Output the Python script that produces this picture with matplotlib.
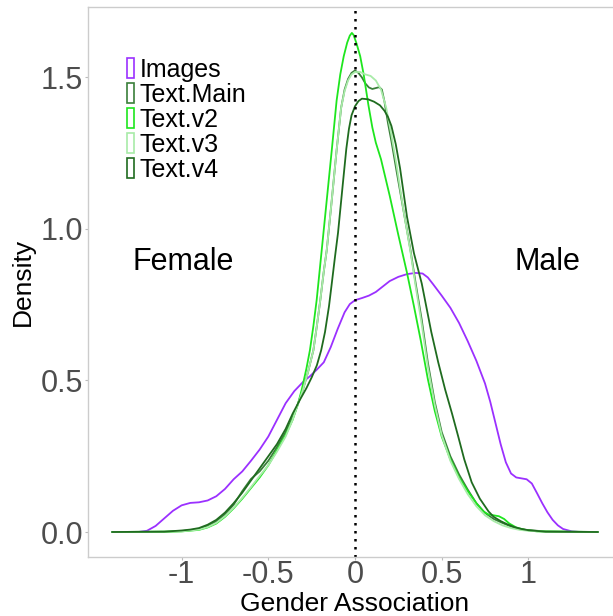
import matplotlib
matplotlib.use('Agg')
import matplotlib.pyplot as plt
from matplotlib.patches import Rectangle

plt.rcParams['font.family'] = ['Liberation Sans', 'DejaVu Sans']
plt.rcParams['axes.unicode_minus'] = False

# density curves of gender association scores
x_images = [-1.40, -1.25, -1.20, -1.15, -1.10, -1.05, -1.00, -0.95, -0.90, -0.85, -0.80, -0.75,
            -0.70, -0.65, -0.60, -0.55, -0.50, -0.45, -0.40, -0.35, -0.30, -0.26, -0.22, -0.18,
            -0.14, -0.10, -0.06, -0.03, 0.0, 0.04, 0.08, 0.12, 0.16, 0.20, 0.25, 0.30, 0.35, 0.39,
            0.42, 0.45, 0.50, 0.55, 0.60, 0.65, 0.70, 0.75, 0.78, 0.81, 0.84, 0.87, 0.90, 0.93,
            0.96, 0.99, 1.02, 1.05, 1.08, 1.11, 1.14, 1.17, 1.20, 1.25, 1.30, 1.40]
d_images = [0, 0.0, 0.004, 0.02, 0.045, 0.07, 0.088, 0.096, 0.098, 0.104, 0.118, 0.142,
            0.174, 0.20, 0.235, 0.272, 0.315, 0.37, 0.425, 0.465, 0.495, 0.514, 0.536, 0.56,
            0.61, 0.67, 0.725, 0.752, 0.765, 0.772, 0.78, 0.792, 0.81, 0.828, 0.842, 0.851, 0.855, 0.853,
            0.84, 0.818, 0.78, 0.74, 0.69, 0.63, 0.565, 0.49, 0.43, 0.36, 0.29, 0.23, 0.193, 0.18,
            0.177, 0.174, 0.16, 0.128, 0.095, 0.065, 0.04, 0.022, 0.01, 0.002, 0, 0]

x_main = [-1.40, -1.10, -1.0, -0.95, -0.90, -0.85, -0.80, -0.75, -0.70, -0.65, -0.60, -0.55,
          -0.50, -0.45, -0.40, -0.35, -0.30, -0.27, -0.24, -0.22, -0.20, -0.18, -0.163, -0.134,
          -0.106, -0.08, -0.06, -0.04, -0.02, 0.0, 0.02, 0.04, 0.06, 0.08, 0.10, 0.12, 0.14, 0.155,
          0.17, 0.19, 0.21, 0.24, 0.28, 0.32, 0.35, 0.385, 0.42, 0.46, 0.50, 0.55, 0.60, 0.65,
          0.70, 0.75, 0.80, 0.85, 0.90, 0.95, 1.0, 1.1, 1.4]
d_main = [0, 0.001, 0.003, 0.006, 0.01, 0.02, 0.035, 0.058, 0.09, 0.135, 0.175, 0.20,
          0.235, 0.28, 0.33, 0.39, 0.47, 0.53, 0.60, 0.68, 0.766, 0.86, 0.93, 1.095,
          1.26, 1.40, 1.46, 1.495, 1.515, 1.523, 1.515, 1.50, 1.48, 1.467, 1.462, 1.465, 1.468, 1.46,
          1.42, 1.35, 1.29, 1.19, 1.06, 0.93, 0.82, 0.70, 0.56, 0.43, 0.33, 0.25, 0.19, 0.14,
          0.095, 0.063, 0.043, 0.03, 0.018, 0.01, 0.006, 0.002, 0]

x_v2 = [-1.40, -1.10, -1.0, -0.9, -0.85, -0.80, -0.75, -0.70, -0.65, -0.60, -0.55, -0.50,
        -0.45, -0.40, -0.36, -0.33, -0.307, -0.28, -0.26, -0.24, -0.221, -0.192, -0.163, -0.134,
        -0.106, -0.085, -0.065, -0.045, -0.03, -0.018, -0.008, 0.01, 0.03, 0.05, 0.077, 0.10,
        0.12, 0.15, 0.20, 0.25, 0.30, 0.34, 0.38, 0.42, 0.46, 0.50, 0.55, 0.60, 0.65, 0.70,
        0.74, 0.77, 0.80, 0.83, 0.86, 0.89, 0.93, 0.98, 1.05, 1.4]
d_v2 = [0, 0.001, 0.002, 0.007, 0.015, 0.028, 0.05, 0.078, 0.11, 0.145, 0.18, 0.22,
        0.27, 0.32, 0.37, 0.42, 0.47, 0.54, 0.60, 0.68, 0.766, 0.93, 1.095, 1.26,
        1.424, 1.51, 1.57, 1.615, 1.638, 1.647, 1.64, 1.61, 1.57, 1.51, 1.41, 1.335,
        1.285, 1.23, 1.11, 0.98, 0.855, 0.745, 0.63, 0.505, 0.40, 0.315, 0.24, 0.18, 0.135, 0.095,
        0.068, 0.058, 0.055, 0.052, 0.043, 0.028, 0.015, 0.007, 0.002, 0]

x_v3 = [-1.40, -1.10, -1.0, -0.9, -0.85, -0.80, -0.75, -0.70, -0.65, -0.60, -0.55, -0.50,
        -0.45, -0.40, -0.36, -0.33, -0.30, -0.27, -0.24, -0.22, -0.20, -0.18, -0.163, -0.134,
        -0.106, -0.08, -0.06, -0.04, -0.02, 0.0, 0.03, 0.06, 0.09, 0.12, 0.15, 0.18, 0.21, 0.24,
        0.28, 0.32, 0.35, 0.385, 0.42, 0.46, 0.50, 0.55, 0.60, 0.65, 0.70, 0.75, 0.80, 0.85,
        0.90, 0.95, 1.0, 1.1, 1.4]
d_v3 = [0, 0.001, 0.002, 0.008, 0.016, 0.03, 0.052, 0.08, 0.113, 0.148, 0.185, 0.22,
        0.265, 0.315, 0.37, 0.42, 0.47, 0.53, 0.60, 0.68, 0.766, 0.86, 0.93, 1.095,
        1.26, 1.40, 1.455, 1.49, 1.51, 1.518, 1.518, 1.51, 1.505, 1.49, 1.46, 1.40, 1.31, 1.21,
        1.06, 0.925, 0.81, 0.685, 0.545, 0.42, 0.32, 0.235, 0.175, 0.125, 0.085, 0.055, 0.036, 0.022,
        0.013, 0.007, 0.004, 0.001, 0]

x_v4 = [-1.40, -1.10, -1.0, -0.95, -0.90, -0.85, -0.80, -0.75, -0.70, -0.65, -0.60, -0.55,
        -0.50, -0.45, -0.40, -0.36, -0.317, -0.28, -0.25, -0.22, -0.195, -0.173, -0.15, -0.134,
        -0.115, -0.098, -0.07, -0.05, -0.035, -0.02, 0.0, 0.02, 0.04, 0.075, 0.11, 0.144, 0.17,
        0.19, 0.21, 0.235, 0.26, 0.28, 0.30, 0.34, 0.385, 0.44, 0.48, 0.52, 0.56, 0.595, 0.63,
        0.673, 0.72, 0.77, 0.80, 0.84, 0.88, 0.92, 0.96, 1.0, 1.1, 1.4]
d_v4 = [0, 0.001, 0.005, 0.008, 0.013, 0.024, 0.04, 0.064, 0.095, 0.13, 0.17, 0.21,
        0.25, 0.29, 0.34, 0.39, 0.437, 0.475, 0.51, 0.55, 0.60, 0.66, 0.745, 0.82,
        0.91, 0.987, 1.15, 1.265, 1.33, 1.375, 1.405, 1.422, 1.43, 1.428, 1.42, 1.408, 1.39,
        1.37, 1.34, 1.28, 1.20, 1.12, 1.04, 0.92, 0.82, 0.66, 0.56, 0.47, 0.39, 0.316, 0.24,
        0.164, 0.11, 0.068, 0.05, 0.036, 0.025, 0.016, 0.01, 0.006, 0.001, 0]

series = [
    ("Images", x_images, d_images, "#9B30FF"),
    ("Text.Main", x_main, d_main, "#3A7F3A"),
    ("Text.v2", x_v2, d_v2, "#1EE61E"),
    ("Text.v3", x_v3, d_v3, "#A8EBA8"),
    ("Text.v4", x_v4, d_v4, "#1F6B1F"),
]

x_ticks = [-1, -0.5, 0, 0.5, 1]
x_tick_labels = ["-1", "-0.5", "0", "0.5", "1"]
y_ticks = [0.0, 0.5, 1.0, 1.5]
y_tick_labels = ["0.0", "0.5", "1.0", "1.5"]

fig = plt.figure(figsize=(6.13, 6.16), dpi=100)
ax = fig.add_axes([88/613, 59/616, 534/613, 550/616])

for name, xs, ds, col in series:
    ax.plot(xs, ds, color=col, lw=1.3, label=name)

ax.axvline(0, color='black', ls=(0, (1, 2.2)), lw=1.8)

ax.text(-0.99, 0.89, "Female", fontsize=22, ha='center', va='center')
ax.text(1.11, 0.89, "Male", fontsize=22, ha='center', va='center')

ax.set_xlim(-1.54, 1.54)
ax.set_ylim(-0.0825, 1.7325)
ax.set_xticks(x_ticks)
ax.set_xticklabels(x_tick_labels)
ax.set_yticks(y_ticks)
ax.set_yticklabels(y_tick_labels)
ax.tick_params(labelsize=22, labelcolor='#4D4D4D', color='#BBBBBB', length=2.5, width=0.8)
ax.tick_params(axis='x', pad=0)
ax.tick_params(axis='y', pad=1)
for s in ax.spines.values():
    s.set_color('#CCCCCC')
    s.set_linewidth(1.0)
ax.set_xlabel("Gender Association", fontsize=19, labelpad=1)
ax.set_ylabel("Density", fontsize=19, labelpad=4)

handles = [Rectangle((0, 0), 1, 1, facecolor='none', edgecolor=col, lw=1.2)
           for _, _, _, col in series]
labels = [name for name, _, _, _ in series]
ax.legend(handles, labels, loc='upper left', bbox_to_anchor=(127/613, 1 - 58/616),
          bbox_transform=fig.transFigure, frameon=False, fontsize=18,
          handlelength=0.27, handleheight=0.85, handletextpad=0.25,
          labelspacing=0.04, borderpad=0, borderaxespad=0)

fig.savefig("out.png", dpi=100)
